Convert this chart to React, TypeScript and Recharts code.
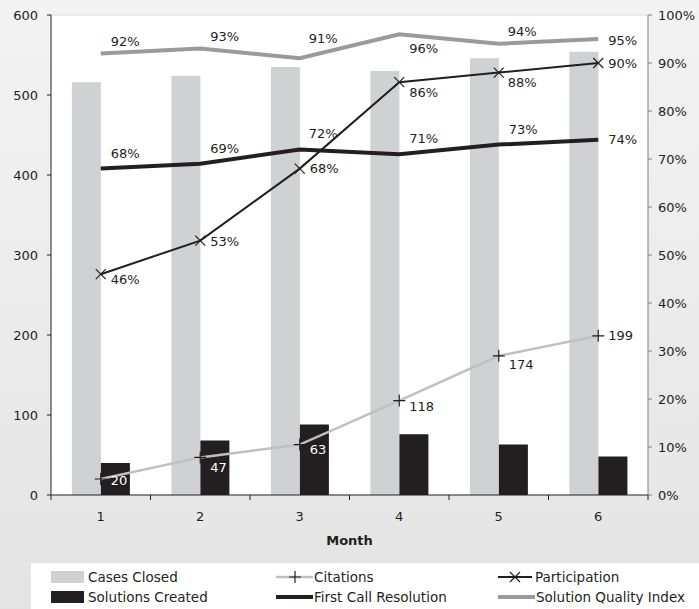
import React from 'react'
import {
  ComposedChart,
  Bar,
  Line,
  XAxis,
  YAxis,
  CartesianGrid,
  ReferenceLine,
} from 'recharts'

const months = ['1', '2', '3', '4', '5', '6']
const casesClosed = [516, 524, 535, 530, 546, 554]
const solutionsCreated = [40, 68, 88, 76, 63, 48]
const citations = [20, 47, 63, 118, 174, 199]
const participation = [46, 53, 68, 86, 88, 90]
const firstCallResolution = [68, 69, 72, 71, 73, 74]
const solutionQuality = [92, 93, 91, 96, 94, 95]

const leftTicks = [0, 100, 200, 300, 400, 500, 600]
const rightTicks = [0, 10, 20, 30, 40, 50, 60, 70, 80, 90, 100]

const data = months.map((m, i) => ({
  month: m,
  cases: casesClosed[i],
  solutions: solutionsCreated[i],
  citations: citations[i],
  participation: participation[i],
  fcr: firstCallResolution[i],
  sqi: solutionQuality[i],
}))

const FONT = '"DejaVu Sans", Verdana, sans-serif'
const DARK = '#231f20'
const LIGHT_BAR = '#d0d1d3'
const CIT = '#c0c0c0'
const SQI = '#9a9a9a'
const BAND = (648 - 51) / 6

// label offsets [dx, dy] from each point, roughly where excel put them
const citOffsets = [[10, 1], [10, 10], [10, 5], [10, 6], [10, 9], [10, 0]]
const partOffsets = [[10, 5], [10, 1], [10, 0], [10, 10], [9, 10], [10, 0]]
const fcrOffsets = [[10, -15], [10, -15], [9, -16], [10, -16], [10, -15], [10, 0]]
const sqiOffsets = [[10, -12], [10, -12], [9, -20], [10, 14], [9, -12], [10, 1]]

const makeLabel =
  (offsets: number[][], suffix: string, colorFn?: (i: number) => string) =>
  (p: any) => {
    const i = p.index
    const [dx, dy] = offsets[i] || [10, 0]
    return (
      <text
        key={`lbl-${suffix}-${i}`}
        x={p.x + dx}
        y={p.y + dy}
        dominantBaseline="central"
        textAnchor="start"
        fontSize={13}
        fontFamily={FONT}
        fill={colorFn ? colorFn(i) : DARK}
      >
        {p.value}
        {suffix}
      </text>
    )
  }

const PlusDot = (p: any) => {
  const { cx, cy, index } = p
  return (
    <path
      key={`plus-${index}`}
      d={`M${cx - 6},${cy}H${cx + 6}M${cx},${cy - 6}V${cy + 6}`}
      stroke={DARK}
      strokeWidth={1.2}
    />
  )
}

const XDot = (p: any) => {
  const { cx, cy, index } = p
  return (
    <path
      key={`x-${index}`}
      d={`M${cx - 5},${cy - 5}L${cx + 5},${cy + 5}M${cx - 5},${cy + 5}L${cx + 5},${cy - 5}`}
      stroke={DARK}
      strokeWidth={1.2}
    />
  )
}

const MonthTick = (p: any) => {
  const { x, y, payload, index } = p
  return (
    <g>
      {index === 0 && (
        <line x1={x - BAND / 2} x2={x - BAND / 2} y1={y} y2={y + 5} stroke={DARK} />
      )}
      <line x1={x + BAND / 2} x2={x + BAND / 2} y1={y} y2={y + 5} stroke={DARK} />
      <text
        x={x}
        y={y + 21}
        textAnchor="middle"
        dominantBaseline="central"
        fontSize={13}
        fontFamily={FONT}
        fill={DARK}
      >
        {payload.value}
      </text>
    </g>
  )
}

const legendItems = [
  { name: 'Cases Closed', kind: 'box', color: LIGHT_BAR, x: 51, row: 0 },
  { name: 'Solutions Created', kind: 'box', color: DARK, x: 51, row: 1 },
  { name: 'Citations', kind: 'plus', color: CIT, x: 276, row: 0 },
  { name: 'First Call Resolution', kind: 'thick', color: DARK, x: 276, row: 1 },
  { name: 'Participation', kind: 'x', color: DARK, x: 498, row: 0 },
  { name: 'Solution Quality Index', kind: 'thick', color: SQI, x: 498, row: 1 },
]

function ChartLegend() {
  return (
    <svg
      width={668}
      height={46}
      style={{ position: 'absolute', left: 31, top: 563, background: '#fff' }}
    >
      {legendItems.map((it) => {
        const cy = 14 + it.row * 20
        const x0 = it.x - 31
        let mark: React.ReactNode = null
        let textX = x0 + 37
        if (it.kind === 'box') {
          mark = <rect x={x0} y={cy - 6} width={33} height={12} fill={it.color} />
        } else if (it.kind === 'thick') {
          mark = (
            <line x1={x0} x2={x0 + 37} y1={cy} y2={cy} stroke={it.color} strokeWidth={4} />
          )
          textX = x0 + 38
        } else if (it.kind === 'plus') {
          const c = x0 + 19
          mark = (
            <g>
              <line x1={x0} x2={x0 + 37} y1={cy} y2={cy} stroke={it.color} strokeWidth={2.5} />
              <path d={`M${c - 6},${cy}H${c + 6}M${c},${cy - 6}V${cy + 6}`} stroke={DARK} strokeWidth={1.2} />
            </g>
          )
          textX = x0 + 38
        } else {
          const c = x0 + 17
          mark = (
            <g>
              <line x1={x0} x2={x0 + 34} y1={cy} y2={cy} stroke={it.color} strokeWidth={2} />
              <path
                d={`M${c - 5},${cy - 5}L${c + 5},${cy + 5}M${c - 5},${cy + 5}L${c + 5},${cy - 5}`}
                stroke={DARK}
                strokeWidth={1.2}
              />
            </g>
          )
        }
        return (
          <g key={it.name}>
            {mark}
            <text
              x={textX}
              y={cy}
              dominantBaseline="central"
              fontSize={13.5}
              fontFamily={FONT}
              fill={DARK}
            >
              {it.name}
            </text>
          </g>
        )
      })}
    </svg>
  )
}

export default function App() {
  return (
    <div
      style={{
        position: 'fixed',
        left: 0,
        top: 0,
        width: 699,
        height: 609,
        background: 'linear-gradient(180deg, #f3f3f3 0%, #e4e4e4 100%)',
        fontFamily: FONT,
      }}
    >
      <ComposedChart
        width={699}
        height={563}
        data={data}
        margin={{ top: 15, right: 0, bottom: 0, left: 0 }}
        barCategoryGap="21%"
        barGap={0}
      >
        <CartesianGrid fill="#fff" horizontal={false} vertical={false} />
        <ReferenceLine yAxisId="left" y={600} stroke="#dcdcdc" />
        <XAxis
          dataKey="month"
          height={68}
          tickLine={false}
          tickSize={0}
          tickMargin={0}
          axisLine={{ stroke: DARK }}
          tick={<MonthTick />}
          interval={0}
          label={{
            value: 'Month',
            position: 'insideBottom',
            offset: 18,
            fontSize: 13,
            fontWeight: 'bold',
            fontFamily: FONT,
            fill: DARK,
          }}
        />
        <YAxis
          yAxisId="left"
          width={51}
          domain={[0, 600]}
          ticks={leftTicks}
          tickSize={4}
          tickMargin={9}
          axisLine={{ stroke: DARK }}
          tickLine={{ stroke: DARK }}
          tick={{ fontSize: 13, fontFamily: FONT, fill: DARK }}
        />
        <YAxis
          yAxisId="right"
          orientation="right"
          width={51}
          domain={[0, 100]}
          ticks={rightTicks}
          tickSize={4}
          tickMargin={6}
          tickFormatter={(v: number) => `${v}%`}
          axisLine={{ stroke: '#808080' }}
          tickLine={{ stroke: '#808080' }}
          tick={{ fontSize: 13, fontFamily: FONT, fill: DARK, textAnchor: 'start' }}
        />
        <Bar yAxisId="left" dataKey="cases" name="Cases Closed" fill={LIGHT_BAR} isAnimationActive={false} />
        <Bar yAxisId="left" dataKey="solutions" name="Solutions Created" fill={DARK} isAnimationActive={false} />
        <Line
          yAxisId="left"
          type="linear"
          dataKey="citations"
          name="Citations"
          stroke={CIT}
          strokeWidth={2.5}
          dot={<PlusDot />}
          activeDot={false}
          label={makeLabel(citOffsets, '', (i) =>
            citations[i] < solutionsCreated[i] ? '#fff' : DARK
          )}
          isAnimationActive={false}
        />
        <Line
          yAxisId="right"
          type="linear"
          dataKey="participation"
          name="Participation"
          stroke={DARK}
          strokeWidth={2}
          dot={<XDot />}
          activeDot={false}
          label={makeLabel(partOffsets, '%')}
          isAnimationActive={false}
        />
        <Line
          yAxisId="right"
          type="linear"
          dataKey="fcr"
          name="First Call Resolution"
          stroke={DARK}
          strokeWidth={4}
          dot={false}
          activeDot={false}
          label={makeLabel(fcrOffsets, '%')}
          isAnimationActive={false}
        />
        <Line
          yAxisId="right"
          type="linear"
          dataKey="sqi"
          name="Solution Quality Index"
          stroke={SQI}
          strokeWidth={4}
          dot={false}
          activeDot={false}
          label={makeLabel(sqiOffsets, '%')}
          isAnimationActive={false}
        />
      </ComposedChart>
      <ChartLegend />
    </div>
  )
}
